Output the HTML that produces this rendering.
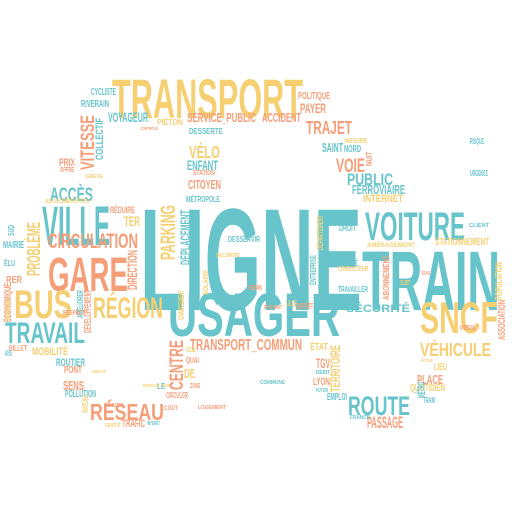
<!DOCTYPE html>
<html><head><meta charset="utf-8"><style>
html,body{margin:0;padding:0;background:#fff;}
svg{display:block;}
text{font-family:"Liberation Sans",sans-serif;font-weight:bold;}
</style></head><body>
<svg id="cloud" width="512" height="512" viewBox="0 0 512 512" xmlns="http://www.w3.org/2000/svg"></svg>
<script>
var T='#67c4cb',O='#f59e78',Y='#f5cf72';
// word, x0, x1, yTop, yBottom, color, vertical
var words=[
['TRANSPORT',112,303,78,118,Y,0],
['LIGNE',140,362,205,310,T,0],
['TRAIN',362,500,249,310,T,0],
['USAGER',168,340,292,336,T,0],
['VOITURE',365,465,211,240,T,0],
['GARE',48,128,256,291,O,0],
['BUS',14,72,289,318,Y,0],
['VILLE',42,110,205,245,T,0],
['CIRCULATION',48,138,233,248,O,0],
['RÉGION',93,163,292,318,Y,0],
['TRAVAIL',5,85,322,343,T,0],
['SNCF',420,498,301,333,Y,0],
['VÉHICULE',420,491,340,356,Y,0],
['SÉCURITÉ',346,410,302,312,T,0],
['ROUTE',348,410,396,415,T,0],
['RÉSEAU',90,164,400,420,O,0],
['PASSAGE',367,403,416,428,O,0],
['CENTRE',169,183,340,390,O,1],
['TRANSPORT_COMMUN',190,302,339,350,O,0],
['ÉTAT',310,328,341,350,Y,0],
['TGV',316,330,358,368,O,0],
['LYON',313,330,377,385,O,0],
['TERRITOIRE',330,340,345,392,Y,1],
['MOBILITÉ',32,68,345,355,Y,0],
['ROUTIER',56,85,358,366,T,0],
['PONT',64,82,366,373,O,0],
['SENS',63,84,381,390,O,0],
['POLLUTION',65,96,390,397,T,0],
['CIRCULER',166,188,392,398,O,0],
['COÛT',164,178,404,410,O,0],
['TRAFIC',122,145,419,427,O,0],
['DE',184,195,369,378,Y,0],
['QUAI',186,199,357,363,O,0],
['PLACE',417,443,375,384,O,0],
['QUOTIDIEN',410,445,384,391,Y,0],
['LIEU',434,447,363,370,Y,0],
['MÉTRO',417,425,382,398,T,1],
['TRAM',423,435,397,403,T,0],
['EMPLOI',327,347,393,400,T,0],
['ASSOCIATION',498,505,300,340,O,1],
['VITESSE',80,94,115,170,O,1],
['COLLECTIF',95,103,118,160,T,1],
['VOYAGEUR',108,148,112,122,T,0],
['RIVERAIN',81,109,100,107,T,0],
['CYCLISTE',91,116,88,95,T,0],
['PIÉTON',157,183,118,125,Y,0],
['ACCÈS',50,93,184,201,T,0],
['AGGLOMÉRATION',45,89,197,203,Y,0],
['PRIX',59,75,158,166,O,0],
['OFFRE',60,74,167,172,O,0],
['GRÈVE',85,103,173,178,Y,0],
['SERVICE_PUBLIC',187,256,113,122,O,0],
['ACCIDENT',262,301,113,122,O,0],
['DESSERTE',189,223,128,134,T,0],
['VÉLO',189,220,143,158,Y,0],
['ENFANT',187,218,160,170,T,0],
['STATION',193,215,170,175,O,0],
['CITOYEN',188,221,180,189,O,0],
['MÉTROPOLE',186,220,195,202,T,0],
['PARKING',160,175,205,260,Y,1],
['DÉPLACEMENT',180,190,210,265,T,1],
['DIRECTION',127,137,250,290,O,1],
['PROBLÈME',27,40,222,276,Y,1],
['RÉDUIRE',110,135,205,213,O,0],
['TER',124,140,216,226,Y,0],
['POLITIQUE',298,330,92,99,O,0],
['PAYER',300,326,103,113,O,0],
['TRAJET',306,352,121,134,O,0],
['MESURE',345,367,138,143,Y,0],
['SAINT',322,343,143,152,T,0],
['NORD',344,361,145,152,T,0],
['VOIE',336,365,158,172,O,0],
['NUIT',366,372,152,166,O,1],
['PUBLIC',347,393,173,185,T,0],
['FERROVIAIRE',352,405,185,194,T,0],
['INTERNET',363,403,194,202,Y,0],
['DROIT',339,356,224,231,T,0],
['AMÉNAGEMENT',367,415,241,247,Y,0],
['STATIONNEMENT',435,489,238,245,Y,0],
['CLIENT',469,489,223,227,T,0],
['CRÉÉ',344,358,259,266,T,0],
['CONDUCTEUR',338,368,266,271,Y,0],
['ABONNEMENT',383,389,255,300,O,1],
['TRAVAILLER',338,368,286,292,T,0],
['ÉCONOMIQUE',4,11,283,322,O,1],
['RER',6,22,276,283,O,0],
['ÉLU',4,15,259,266,T,0],
['MAIRIE',3,24,241,248,T,0],
['SUD',8,14,225,236,T,1],
['ENTREPRISE',310,316,255,285,T,1],
['DÉPARTEMENT',317,323,215,250,Y,1],
['DÉVELOPPEMENT',84,91,290,333,O,1],
['AMÉLIORER',77,83,290,318,T,1],
['BILLET',9,27,345,351,O,0],
['DESSERVIR',228,260,236,242,T,0],
['CHANGEMENT',178,184,290,320,Y,1],
['POPULATION',495,502,262,300,Y,1],
['ÉCOLE',421,433,358,362,Y,0],
['CHARGE',5,10,300,320,Y,1],
['FRANCE',350,370,415,419,T,0],
['NIVEAU',82,88,395,413,Y,1],
['LE',157,165,383,389,T,0],
['DÉBIT',316,330,369,374,T,0],
['GRATUIT',105,121,423,427,Y,0],
['INTÉRÊT',147,160,420,425,T,0],
['RESPECT',63,85,310,315,O,0],
['SOCIAL',186,196,347,352,Y,0],
['FUTUR',316,328,388,392,T,0],
['LILLE',286,297,300,306,Y,0],
['CHEMIN',248,262,285,290,O,0],
['TÉLÉPHONE',421,430,270,275,O,0],
['SOLAIRE',203,208,270,295,Y,1],
['AVIS',5,12,350,356,T,0],
['ÉTUDIANT',264,282,304,309,O,0],
['SUPPORT',296,313,303,309,O,0],
['SUJET',400,410,280,285,Y,0],
['INTERMODAL',460,476,325,330,O,0],
['COMMUNE',260,285,380,384,T,0],
['LOGEMENT',198,226,405,409,O,0],
['SECURITE',216,240,253,257,Y,0],
['CONTRÔLE',140,158,126,130,O,0],
['POSITIF',104,124,403,407,O,0],
['ZONE',190,200,383,388,O,0],
['HANDICAPÉ',92,106,369,373,Y,0],
['RÉSEAU_BUS',143,170,383,387,Y,0],
['URGENCE',470,488,170,176,T,0],
['RISQUE',470,484,138,144,T,0]
];
var svg=document.getElementById('cloud');
var NS='http://www.w3.org/2000/svg';
function slug(s){return s.toLowerCase().normalize('NFD').replace(/[\u0300-\u036f]/g,'').replace(/[^a-z0-9]+/g,'-').replace(/^-|-$/g,'');}
words.forEach(function(w){
  var x0=w[1],x1=w[2],y0=w[3],y1=w[4],vert=w[6];
  var el=document.createElementNS(NS,'text');
  el.textContent=w[0];
  var h=vert?(x1-x0):(y1-y0);
  var len=vert?(y1-y0):(x1-x0);
  if(!vert && /[ÀÂÉÈÊËÎÏÔÛÙÇ]/.test(w[0])) h=h*0.82;
  var fs=h/0.72;
  el.setAttribute('font-size',fs.toFixed(1));
  el.setAttribute('fill',w[5]);
  el.setAttribute('textLength',len);
  el.setAttribute('lengthAdjust','spacingAndGlyphs');
  if(vert){
    el.setAttribute('transform','translate('+x1+','+y1+') rotate(-90)');
    el.setAttribute('x',0);el.setAttribute('y',0);
  }else{
    el.setAttribute('x',x0);el.setAttribute('y',y1);
  }
  
  
  svg.appendChild(el);
});
</script>
</body></html>
